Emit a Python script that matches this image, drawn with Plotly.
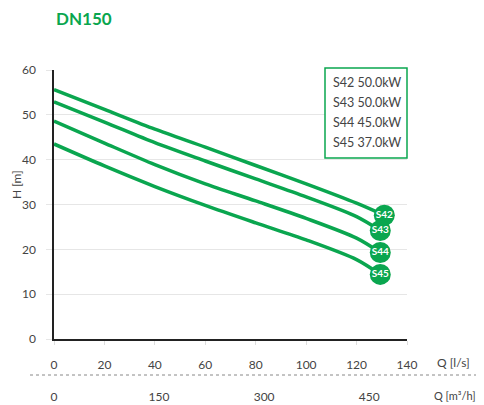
import plotly.graph_objects as go

GREEN = "#0aa64f"
TXT = "#444444"

q_ls = [0, 20, 40, 60, 80, 100, 120]
series_names = ["S42", "S43", "S44", "S45"]
series_power = ["50.0kW", "50.0kW", "45.0kW", "37.0kW"]
s42_q = q_ls + [131]
s42_h = [55.6, 51.2, 46.8, 42.8, 38.7, 34.6, 30.3, 27.6]
s43_q = q_ls + [129.4]
s43_h = [52.9, 48.4, 43.8, 39.7, 35.7, 31.7, 27.3, 24.2]
s44_q = q_ls + [129.4]
s44_h = [48.6, 43.7, 38.9, 34.6, 30.8, 26.9, 22.5, 19.3]
s45_q = q_ls + [129.4]
s45_h = [43.5, 38.6, 34.0, 29.8, 25.9, 22.1, 17.7, 14.4]

x_ticks = [0, 20, 40, 60, 80, 100, 120, 140]
y_ticks = [0, 10, 20, 30, 40, 50, 60]
m3h_ticks = [0, 150, 300, 450]

FONT = "Lato"
# page has an 8px body margin: figure sits at (8, 8) in the window
OFF = 8
W, H = 484 - OFF, 405 - OFF
PL, PR, PT, PB = 54, 407, 70, 339  # plot area in window pixels

fig = go.Figure()
all_q = [s42_q, s43_q, s44_q, s45_q]
all_h = [s42_h, s43_h, s44_h, s45_h]
for name, qs, hs in zip(series_names, all_q, all_h):
    fig.add_trace(go.Scatter(x=qs, y=hs, mode="lines", line=dict(color=GREEN, width=3.5, shape="spline", smoothing=0.8),
                             showlegend=False, hoverinfo="skip"))
for name, qs, hs in zip(series_names, all_q, all_h):
    fig.add_trace(go.Scatter(x=[qs[-1]], y=[hs[-1]], mode="markers+text", text=[name],
                             textposition="middle center",
                             textfont=dict(color="white", size=10, family=FONT, weight="bold"),
                             marker=dict(color=GREEN, size=21, line=dict(width=0)),
                             showlegend=False, hoverinfo="skip", cliponaxis=False))

# second (m3/h) axis, invisible trace
fig.add_trace(go.Scatter(x=[0, 504], y=[0, 0], xaxis="x2", mode="markers", marker=dict(opacity=0),
                         showlegend=False, hoverinfo="skip"))

fig.update_layout(
    width=W, height=H,
    margin=dict(l=PL - OFF, r=W - (PR - OFF), t=PT - OFF, b=H - (PB - OFF), autoexpand=False),
    paper_bgcolor="white", plot_bgcolor="white",
    font=dict(family=FONT, size=12, color=TXT),
    xaxis=dict(range=[0, 140], tickvals=x_ticks, showgrid=False, zeroline=False, automargin=False,
               showline=True, linecolor="#222", linewidth=1.5,
               ticks="outside", ticklen=4, tickcolor="#dddddd",
               ticklabelstandoff=10, tickfont=dict(size=12, color=TXT)),
    xaxis2=dict(range=[0, 504], tickvals=m3h_ticks, overlaying="x", side="bottom", anchor="y",
                showgrid=False, zeroline=False, showline=False, ticks="", automargin=False,
                ticklabelstandoff=49, tickfont=dict(size=12, color=TXT)),
    yaxis=dict(range=[0, 60], tickvals=y_ticks, showgrid=True, gridcolor="#e6e6e6", gridwidth=1,
               zeroline=False, showline=True, linecolor="#222", linewidth=1.5, automargin=False,
               ticks="outside", ticklen=6, tickcolor="#e6e6e6",
               ticklabelstandoff=8, tickfont=dict(size=12, color=TXT)),
    showlegend=False,
)

pw, ph = PR - PL, PB - PT
def px_x(p):
    return (p - PL) / pw
def px_y(p):
    return (PB - p) / ph

fig.add_annotation(text="<b>DN150</b>", xref="paper", yref="paper", x=px_x(54), y=px_y(19),
                   xanchor="left", yanchor="middle", showarrow=False,
                   font=dict(size=17, color=GREEN, family=FONT))
fig.add_annotation(text="H [m]", xref="paper", yref="paper", x=px_x(16), y=px_y(185), textangle=-90,
                   xanchor="center", yanchor="middle", showarrow=False, font=dict(size=12, color=TXT))
fig.add_annotation(text="Q [l/s]", xref="paper", yref="paper", x=px_x(435), y=px_y(362),
                   xanchor="left", yanchor="middle", showarrow=False, font=dict(size=12, color=TXT))
fig.add_annotation(text="Q [m³/h]", xref="paper", yref="paper", x=px_x(432), y=px_y(395),
                   xanchor="left", yanchor="middle", showarrow=False, font=dict(size=11, color=TXT))

# dotted separator
fig.add_shape(type="line", xref="paper", yref="paper", x0=px_x(30), x1=px_x(484), y0=px_y(375), y1=px_y(375),
              line=dict(color="#888", width=1, dash="dot"))

# legend box
box_x0, box_x1 = 325, 407
box_y0, box_y1 = 68, 158
fig.add_shape(type="rect", xref="paper", yref="paper", x0=px_x(box_x0), x1=px_x(box_x1),
              y0=px_y(box_y1), y1=px_y(box_y0), line=dict(color=GREEN, width=1.5), fillcolor="white", layer="above")
for i, (n, p) in enumerate(zip(series_names, series_power)):
    fig.add_annotation(text=f"{n} {p}", xref="paper", yref="paper", x=px_x(331), y=px_y(82 + i * 20.3),
                       xanchor="left", yanchor="middle", showarrow=False, font=dict(size=12.5, color=TXT))

fig.write_html("out.html")
